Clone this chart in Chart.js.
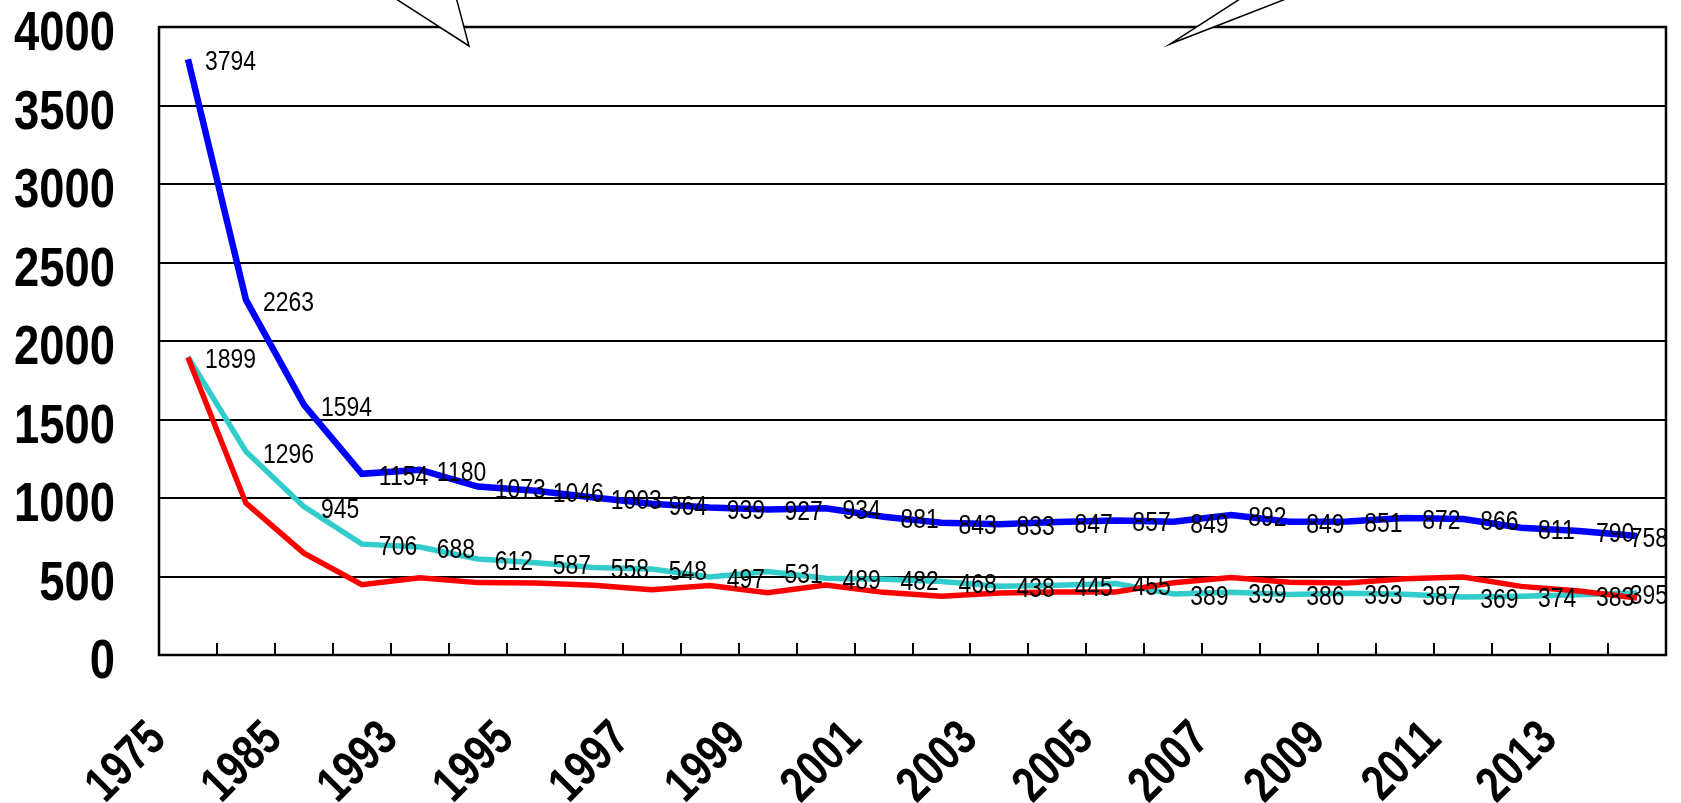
<!DOCTYPE html>
<html>
<head>
<meta charset="utf-8">
<script src="https://cdn.jsdelivr.net/npm/chart.js@4.4.1/dist/chart.umd.min.js"></script>
<style>
  body { margin: 0; background: #fff; }
  #wrap { width: 1681px; height: 803px; position: relative; }
</style>
</head>
<body>
<div id="wrap"><canvas id="chart"></canvas></div>
<script>
const years = ['1975', '1980', '1985', '1990', '1993', '1994', '1995', '1996', '1997', '1998', '1999', '2000', '2001',
    '2002', '2003', '2004', '2005', '2006', '2007', '2008', '2009', '2010', '2011', '2012', '2013', '2014'];

// blue line (top)
const blueValues = [3794, 2263, 1594, 1154, 1180, 1073, 1046, 1003, 964, 939, 927, 934, 881,
    843, 833, 847, 857, 849, 892, 849, 851, 872, 866, 811, 790, 758];

// cyan line
const cyanValues = [1899, 1296, 945, 706, 688, 612, 587, 558, 548, 497, 531, 489, 482,
    468, 438, 445, 455, 389, 399, 386, 393, 387, 369, 374, 383, 395];

// red line (no labels in the picture)
const redValues = [1895, 967, 649, 448, 492, 461, 459, 445, 416, 442, 396, 445, 399,
    375, 395, 402, 402, 460, 493, 463, 458, 485, 497, 437, 407, 363];

const yMin = 0;
const yMax = 4000;
const yStep = 500;

const FONT = "'Liberation Sans', Arial, sans-serif";

// narrow text: draw with a horizontal squeeze
function narrowText(ctx, text, x, y, sx, angle) {
    ctx.save();
    ctx.translate(x, y);
    if (angle) ctx.rotate(angle);
    ctx.scale(sx, 1);
    ctx.fillText(text, 0, 0);
    ctx.restore();
}

// axis labels drawn from the scales (narrow bold font)
const axisLabels = {
    id: 'axisLabels',
    afterDraw(chart) {
        const ctx = chart.ctx;
        const xs = chart.scales.x, ys = chart.scales.y;
        ctx.save();
        ctx.fillStyle = '#000';
        ctx.font = 'bold 56px ' + FONT;
        ctx.textAlign = 'right';
        ctx.textBaseline = 'alphabetic';
        ys.ticks.forEach(t => {
            narrowText(ctx, String(t.value), ys.right - 44, ys.getPixelForValue(t.value) + 23, 0.81);
        });
        ctx.font = 'bold 50px ' + FONT;
        chart.data.labels.forEach((lab, i) => {
            if (i % 2 !== 0) return;
            const x = xs.getPixelForValue(i);
            narrowText(ctx, lab, x - 20, xs.top + 86, 0.8, -Math.PI / 4);
        });
        ctx.restore();
    }
};

// value labels right of each point
const valueLabels = {
    id: 'valueLabels',
    afterDatasetsDraw(chart) {
        const ctx = chart.ctx;
        const right = chart.chartArea.right;
        ctx.save();
        ctx.font = '27px ' + FONT;
        ctx.fillStyle = '#000';
        ctx.textAlign = 'left';
        ctx.textBaseline = 'alphabetic';
        chart.data.datasets.forEach((ds, i) => {
            if (!ds.showValues) return;
            chart.getDatasetMeta(i).data.forEach((pt, j) => {
                const txt = String(ds.data[j]);
                const w = ctx.measureText(txt).width * 0.85;
                const x = Math.min(pt.x + 17, right + 2 - w);
                narrowText(ctx, txt, x, pt.y + 11, 0.85);
            });
        });
        ctx.restore();
    }
};

// frame, inner tick marks and the two callout tails at the top
const frame = {
    id: 'frame',
    beforeDatasetsDraw(chart) {
        const { ctx, chartArea: a } = chart;
        const n = chart.data.labels.length;
        ctx.save();
        ctx.strokeStyle = '#000';
        ctx.lineWidth = 2;
        ctx.beginPath();
        for (let i = 1; i < n; i++) {
            const x = Math.round(a.left + (a.right - a.left) * i / n);
            ctx.moveTo(x, a.bottom);
            ctx.lineTo(x, a.bottom - 12);
        }
        ctx.stroke();
        ctx.lineWidth = 2.5;
        ctx.strokeRect(a.left, a.top, a.right - a.left, a.bottom - a.top);
        ctx.restore();
    },
    afterDraw(chart) {
        const ctx = chart.ctx;
        ctx.save();
        ctx.fillStyle = '#fff';
        ctx.strokeStyle = '#000';
        ctx.lineWidth = 1.5;
        [[[393, -3], [469, 46], [456, -3]], [[1243, -3], [1170, 44], [1291, -3]]].forEach(p => {
            ctx.beginPath();
            ctx.moveTo(p[0][0], p[0][1]);
            ctx.lineTo(p[1][0], p[1][1]);
            ctx.lineTo(p[2][0], p[2][1]);
            ctx.closePath();
            ctx.fill();
            ctx.beginPath();
            ctx.moveTo(p[0][0], p[0][1]);
            ctx.lineTo(p[1][0], p[1][1]);
            ctx.lineTo(p[2][0], p[2][1]);
            ctx.stroke();
        });
        ctx.restore();
    }
};

const ctx = document.getElementById('chart').getContext('2d');
new Chart(ctx, {
    type: 'line',
    data: {
        labels: years,
        datasets: [
            { data: blueValues, borderColor: '#0000FF', borderWidth: 6.5, showValues: true },
            { data: redValues, borderColor: '#FF0000', borderWidth: 5.5, showValues: false },
            { data: cyanValues, borderColor: '#33CCCC', borderWidth: 5.5, showValues: true }
        ]
    },
    options: {
        responsive: true,
        maintainAspectRatio: false,
        animation: false,
        layout: { padding: { top: 27, right: 15, left: 0, bottom: 0 } },
        elements: {
            point: { radius: 0, hoverRadius: 0 },
            line: { tension: 0, fill: false, borderJoinStyle: 'miter' }
        },
        plugins: {
            legend: { display: false },
            tooltip: { enabled: false }
        },
        scales: {
            x: {
                offset: true,
                grid: { display: false, drawTicks: false },
                border: { display: false },
                ticks: { display: false, autoSkip: false },
                afterFit(scale) { scale.height = 148; }
            },
            y: {
                min: yMin,
                max: yMax,
                grid: { color: '#000', lineWidth: 2, drawTicks: false },
                border: { display: false },
                ticks: { display: false, stepSize: yStep },
                afterFit(scale) { scale.width = 159; }
            }
        }
    },
    plugins: [frame, valueLabels, axisLabels]
});
</script>
</body>
</html>
